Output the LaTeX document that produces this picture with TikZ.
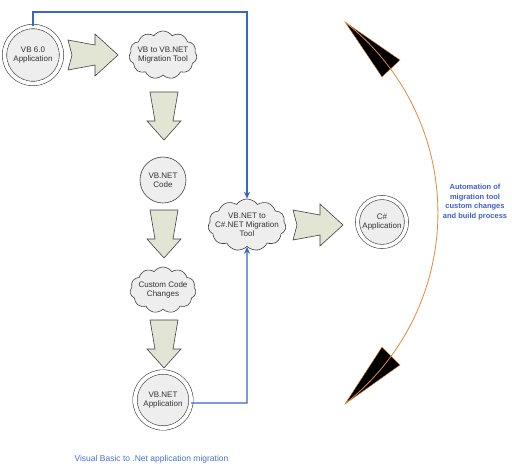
\documentclass[tikz,border=0pt]{standalone}
\usepackage{fontspec}
\setmainfont{Liberation Sans}
\usetikzlibrary{shapes.symbols, arrows.meta}
\definecolor{lgrey}{HTML}{EEEEEE}
\definecolor{arrfill}{HTML}{E2E4D4}
\definecolor{edge}{HTML}{404040}
\definecolor{linkblue}{HTML}{3A66C0}
\definecolor{txtblue}{HTML}{3F5FD0}
\definecolor{captblue}{HTML}{4A72D4}
\definecolor{arcorange}{HTML}{E08A3C}
\begin{document}
\begin{tikzpicture}[x=1pt,y=-1pt,
  every node/.style={font=\fontsize{8}{9}\selectfont, align=center, text=black!80},
  dcirc/.style={circle, draw=edge, line width=0.6pt, double=white, double distance=3.8pt, fill=lgrey, inner sep=0pt},
  scirc/.style={circle, draw=edge, line width=0.6pt, fill=lgrey, inner sep=0pt},
  cloudbox/.style={cloud, cloud puffs=11, cloud puff arc=110, aspect=1.5, draw=edge, line width=0.6pt, fill=lgrey, inner sep=0pt},
  link/.style={draw=linkblue, line width=1.4pt},
  linkarrow/.style={link, -{Stealth[length=7pt,width=6pt]}},
  rarrow/.pic={\draw[draw=edge, fill=arrfill, line width=0.6pt] (0,-15) -- (27,-10) -- (27,-21) -- (50,0) -- (27,21) -- (27,10) -- (0,15) -- (4,0) -- cycle;},
  darrow/.pic={\draw[draw=edge, fill=arrfill, line width=0.6pt] (-14,0) -- (14,0) -- (9,29) -- (17,29) -- (0,48) -- (-17,29) -- (-9,29) -- cycle;}
]
\useasboundingbox (0,0) rectangle (512,475);
\fill[white] (0,0) rectangle (512,475);

% nodes
\node[dcirc, minimum size=57] (vb6) at (33,55) {VB 6.0\\Application};
\node[cloudbox, minimum width=68, minimum height=48] (c1) at (163,55) {};
\node (c1t) at (c1) {VB to VB.NET\\Migration Tool};
\node[scirc, minimum size=46] (code) at (163,180) {VB.NET\\Code};
\node[cloudbox, minimum width=66, minimum height=46] (c2) at (163,290) {};
\node (c2t) at (c2) {Custom Code\\Changes};
\node[dcirc, minimum size=56] (vbapp) at (163,400) {VB.NET\\Application};
\node[cloudbox, minimum width=78, minimum height=52] (c3) at (247,225) {};
\node (c3t) at (c3) {VB.NET to\\C\#.NET Migration\\Tool};
\node[dcirc, minimum size=49, double distance=3.5pt] (cs) at (382,222) {C\#\\Application};

% block arrows
\pic at (68,55) {rarrow};
\pic at (164,92) {darrow};
\pic at (164,210) {darrow};
\pic at (164,320) {darrow};
\pic at (293,225) {rarrow};

% blue connectors
\coordinate (ctop) at (247,12);
\coordinate (cbot) at (247,403);
\draw[linkarrow] (vb6.north) -- (vb6.north |- ctop) -- (ctop) -- (c3.north);
\draw[linkarrow] (vbapp.-6) -- (cbot) -- (c3.south);

% arc with arrowheads
\coordinate (atop) at (345,22);
\coordinate (abot) at (345,404);
\filldraw[fill=black, draw=arcorange, line width=0.4pt] (atop) -- (400,60) -- (382,77) -- cycle;
\filldraw[fill=black, draw=arcorange, line width=0.4pt] (abot) -- (400,365) -- (382,347) -- cycle;
\draw[arcorange, line width=0.8pt] (atop) arc[start angle=51.9, end angle=-51.9, radius=242.6pt];

% texts
\node[text=txtblue, font=\bfseries\fontsize{7.5}{9.4}\selectfont] (auto) at (475,202) {Automation of\\migration tool\\custom changes\\and build process};
\node[text=captblue, anchor=west, font=\fontsize{8.5}{10}\selectfont] (cap) at (71,459) {Visual Basic to .Net application migration};
\end{tikzpicture}
\end{document}
